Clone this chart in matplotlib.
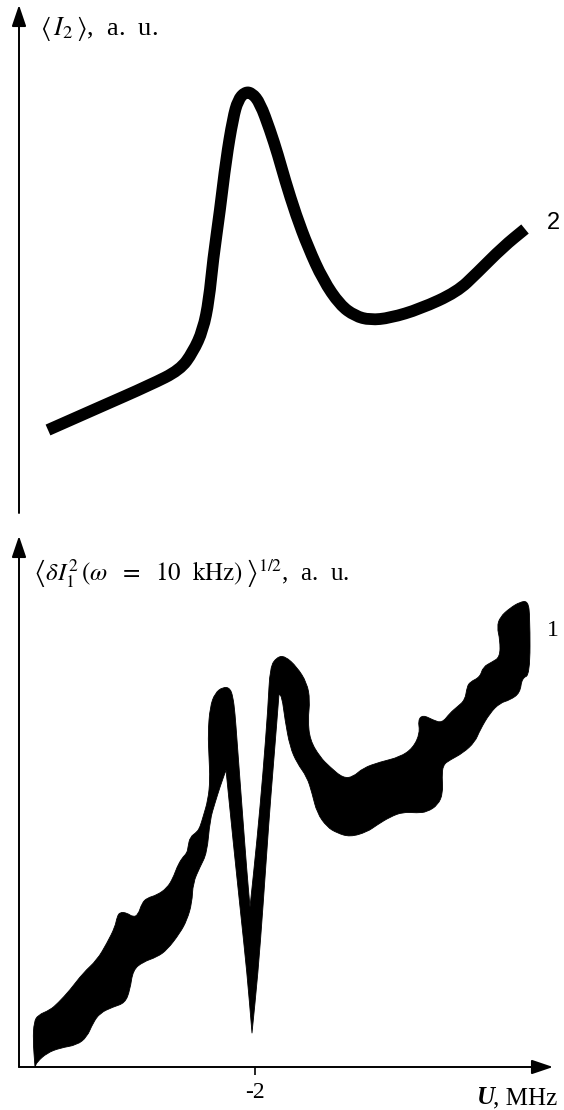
import numpy as np
import matplotlib.pyplot as plt
from matplotlib.path import Path
from matplotlib.patches import PathPatch

plt.rcParams['font.family'] = ['Liberation Serif', 'DejaVu Serif']
plt.rcParams['mathtext.fontset'] = 'stix'

# curve 2: mean intensity <I2> vs detuning U (MHz)
top_u = [-4.07, -3.55, -3.05, -2.75, -2.62, -2.52, -2.46, -2.42, -2.35, -2.29,
         -2.22, -2.17, -2.10, -2.03, -1.95, -1.85, -1.77, -1.70, -1.59, -1.47,
         -1.32, -1.15, -1.00, -0.85, -0.65, -0.35, 0.02, 0.22, 0.48, 0.70]
top_i2 = [0.83, 1.06, 1.28, 1.43, 1.61, 1.83, 2.13, 2.53, 3.03, 3.53,
          3.95, 4.13, 4.21, 4.20, 4.10, 3.83, 3.58, 3.33, 2.98, 2.66,
          2.33, 2.08, 1.97, 1.93, 1.95, 2.04, 2.21, 2.40, 2.66, 2.84]

# curve 1: noise band of <dI1^2>^(1/2), upper edge (left to right)
band_hi_u = [-4.20, -4.22, -4.21, -4.17, -4.05, -3.97, -3.85, -3.72, -3.58, -3.48,
             -3.40, -3.38, -3.35, -3.28, -3.22, -3.17, -3.13, -3.08, -2.98, -2.88,
             -2.82, -2.78, -2.73, -2.68, -2.67, -2.65, -2.58, -2.55, -2.52, -2.47,
             -2.45, -2.46, -2.47, -2.45, -2.40, -2.32, -2.25, -2.22, -2.20, -2.18,
             -2.13, -2.08, -2.05, -1.98, -1.92, -1.87, -1.85, -1.78, -1.70, -1.58,
             -1.48, -1.45, -1.47, -1.45, -1.35, -1.25, -1.12, -1.02, -0.92, -0.75,
             -0.55, -0.42, -0.35, -0.37, -0.32, -0.22, -0.13, -0.05, 0.02, 0.10,
             0.12, 0.15, 0.25, 0.28, 0.37, 0.45, 0.45, 0.42, 0.45, 0.55,
             0.65, 0.73, 0.75, 0.75]
band_hi = [0.00, 0.27, 0.45, 0.52, 0.57, 0.64, 0.77, 0.94, 1.07, 1.24,
           1.40, 1.50, 1.55, 1.54, 1.50, 1.52, 1.64, 1.69, 1.72, 1.79,
           1.89, 2.00, 2.09, 2.14, 2.20, 2.30, 2.35, 2.40, 2.50, 2.67,
           2.87, 3.10, 3.34, 3.60, 3.74, 3.80, 3.79, 3.70, 3.54, 3.27,
           2.60, 1.94, 1.60, 2.27, 2.94, 3.60, 4.00, 4.10, 4.11, 4.00,
           3.84, 3.67, 3.47, 3.27, 3.10, 3.00, 2.89, 2.90, 2.99, 3.05,
           3.10, 3.19, 3.34, 3.47, 3.52, 3.47, 3.44, 3.54, 3.60, 3.67,
           3.80, 3.85, 3.90, 4.00, 4.05, 4.10, 4.27, 4.40, 4.50, 4.59,
           4.65, 4.66, 4.50, 3.92]

# lower edge of the band (left to right)
band_lo_u = [-4.18, -4.08, -3.95, -3.78, -3.68, -3.62, -3.55, -3.42, -3.30, -3.25,
             -3.22, -3.12, -2.98, -2.88, -2.75, -2.68, -2.63, -2.62, -2.55, -2.48,
             -2.45, -2.40, -2.35, -2.29, -2.22, -2.15, -2.08, -2.03, -1.97, -1.92,
             -1.86, -1.82, -1.78, -1.76, -1.73, -1.70, -1.65, -1.58, -1.48, -1.43,
             -1.38, -1.28, -1.18, -1.05, -0.88, -0.78, -0.65, -0.52, -0.38, -0.28,
             -0.17, -0.12, -0.13, -0.12, -0.05, 0.08, 0.20, 0.25, 0.35, 0.45,
             0.55, 0.65, 0.67]
band_lo = [0.05, 0.14, 0.19, 0.22, 0.30, 0.44, 0.54, 0.60, 0.64, 0.77,
           0.97, 1.05, 1.10, 1.17, 1.34, 1.47, 1.64, 1.84, 2.00, 2.14,
           2.47, 2.64, 2.80, 2.97, 2.27, 1.60, 0.94, 0.34, 0.94, 1.60,
           2.47, 2.97, 3.47, 3.73, 3.70, 3.47, 3.20, 3.04, 2.90, 2.74,
           2.54, 2.40, 2.34, 2.30, 2.35, 2.42, 2.50, 2.55, 2.54, 2.55,
           2.62, 2.74, 2.90, 3.02, 3.07, 3.14, 3.25, 3.37, 3.54, 3.64,
           3.67, 3.74, 3.89]

x_ticks = [-2]
x_tick_labels = ['-2']


def smooth_path(xs, ys, closed=False, corner_cos=-0.3):
    """Quadratic-Bezier path through the midpoints of the given vertices;
    vertices where the outline turns sharply are kept as corners."""
    p = np.column_stack([xs, ys]).astype(float)
    n = len(p)
    verts, codes = [], []

    def add_vertex(i, prev, nxt):
        a, b = p[i] - prev, nxt - p[i]
        cos = a @ b / (np.hypot(*a) * np.hypot(*b) + 1e-12)
        mid = (p[i] + nxt) / 2
        if cos < corner_cos:
            verts.extend([p[i], mid])
            codes.extend([Path.LINETO, Path.LINETO])
        else:
            verts.extend([p[i], mid])
            codes.extend([Path.CURVE3, Path.CURVE3])

    if closed:
        start = (p[-1] + p[0]) / 2
        verts.append(start)
        codes.append(Path.MOVETO)
        for i in range(n):
            add_vertex(i, p[i - 1], p[(i + 1) % n])
        verts.append(start)
        codes.append(Path.CLOSEPOLY)
    else:
        verts.extend([p[0], (p[0] + p[1]) / 2])
        codes.extend([Path.MOVETO, Path.LINETO])
        for i in range(1, n - 1):
            add_vertex(i, p[i - 1], p[i + 1])
        verts.append(p[-1])
        codes.append(Path.LINETO)
    return Path(verts, codes)


fig = plt.figure(figsize=(5.64, 11.10), dpi=100)
ax_top = fig.add_axes([19 / 564, 597 / 1110, 534 / 564, 508 / 1110])
ax_bot = fig.add_axes([19 / 564, 43 / 1110, 534 / 564, 531 / 1110])

ax_top.set_xlim(-4.36, 0.98)
ax_top.set_ylim(0, 5.08)
ax_bot.set_xlim(-4.36, 0.98)
ax_bot.set_ylim(0, 5.31)

arrow = dict(arrowstyle='-|>,head_length=0.65,head_width=0.22', lw=1.4,
             color='k', fc='k', shrinkA=0, shrinkB=0, mutation_scale=20)


def axis_arrow(ax, start, end):
    ax.annotate('', xy=end, xytext=start, xycoords='axes fraction',
                arrowprops=arrow, annotation_clip=False)


for ax in (ax_top, ax_bot):
    for s in ax.spines.values():
        s.set_visible(False)
    ax.set_yticks([])
    axis_arrow(ax, (0, 0), (0, 1))
axis_arrow(ax_bot, (0, 0), (1, 0))

ax_top.set_xticks([])
ax_bot.set_xticks(x_ticks)
ax_bot.set_xticklabels(x_tick_labels)
ax_bot.tick_params(axis='x', direction='out', length=6, width=1.2, pad=5,
                   labelsize=17)

# curve 2
ax_top.add_patch(PathPatch(smooth_path(top_u, top_i2), fill=False,
                           edgecolor='k', lw=8.5, capstyle='butt',
                           joinstyle='round'))
ax_top.text(0.98, 2.90, '2', ha='center', va='center', fontsize=17,
            family='Liberation Sans', clip_on=False)

# curve 1 (filled noise band)
band_u = np.r_[band_hi_u, band_lo_u[::-1]]
band_v = np.r_[band_hi, band_lo[::-1]]
ax_bot.add_patch(PathPatch(smooth_path(band_u, band_v, closed=True),
                           facecolor='k', edgecolor='k', lw=0.6,
                           joinstyle='round'))
ax_bot.text(0.98, 4.37, '1', ha='center', va='center', fontsize=17,
            clip_on=False)

# axis captions
fig.text(40 / 564, 1 - 35 / 1110, r'$\langle\, I_2\,\rangle$,  a.  u.',
         fontsize=19, va='baseline')
fig.text(33 / 564, 1 - 580 / 1110,
         r'$\left\langle\delta I_1^2\,(\omega\ \ =\ \ 10\ \ \mathrm{kHz})\,\right\rangle^{1/2}$,  a.  u.',
         fontsize=18, va='baseline')
fig.text(477 / 564, 1 - 1104 / 1110, 'U', fontsize=18, fontweight='bold',
         fontstyle='italic', va='baseline')
fig.text(493 / 564, 1 - 1104 / 1110, ', MHz', fontsize=18, va='baseline')

fig.savefig('out.png', dpi=100)
